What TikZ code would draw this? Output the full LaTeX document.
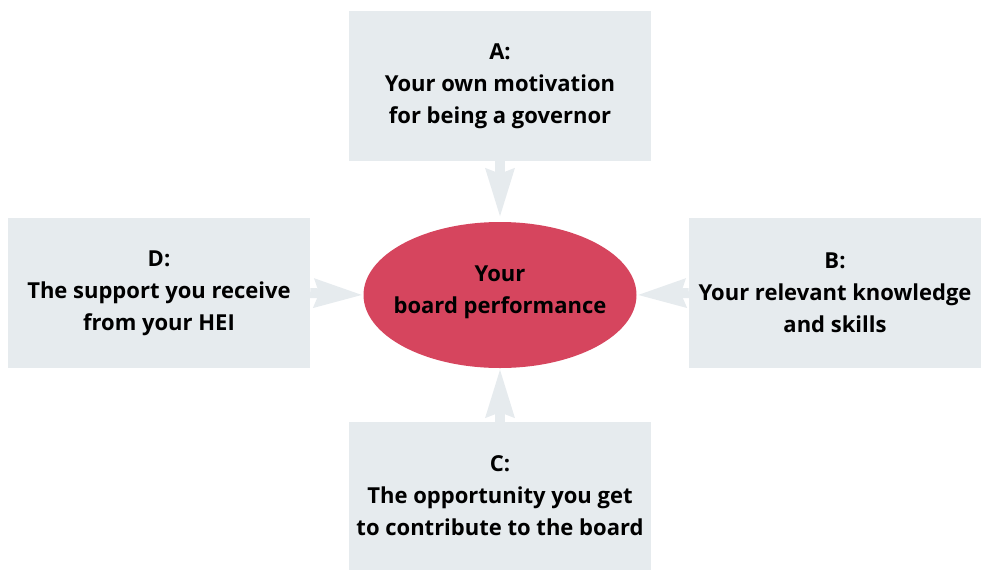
\documentclass[tikz,border=0pt]{standalone}
\usepackage{fontspec}
\setmainfont{Open Sans}
\usetikzlibrary{arrows.meta,shapes.geometric}
\definecolor{boxgray}{HTML}{E6EBEE}
\definecolor{ellred}{HTML}{D6455E}
\tikzset{
  factor/.style={rectangle, fill=boxgray, draw=none, align=center, inner sep=0pt,
    font=\fontsize{22}{32}\selectfont\bfseries},
  centre/.style={ellipse, fill=ellred, draw=none, minimum width=273pt, minimum height=146pt,
    align=center, inner sep=0pt},
  label/.style={font=\fontsize{22}{32}\selectfont\bfseries, align=center, inner sep=0pt},
  link/.style={draw=boxgray, line width=10pt,
    -{Stealth[length=48pt,width=27pt,inset=4pt]}}
}
\begin{document}
\begin{tikzpicture}[x=1pt,y=-1pt]
\useasboundingbox (0,0) rectangle (981,570);
\node[factor, minimum width=302pt, minimum height=150pt] (A) at (500,86) {A:\\Your own motivation\\for being a governor};
\node[factor, minimum width=302pt, minimum height=150pt] (D) at (159,293) {D:\\The support you receive\\from your HEI};
\node[factor, minimum width=292pt, minimum height=150pt] (B) at (835,293) {B:\\Your relevant knowledge\\and skills};
\node[factor, minimum width=302pt, minimum height=148pt] (C) at (500,496) {C:\\The opportunity you get\\to contribute to the board};
\node[centre] (E) at (500,295) {};
\node[label] (Et) at (500,292) {Your\\board performance};
\draw[link, shorten >=4pt] (A.south) -- (E.north);
\draw[link] (D.east) -- (E.west);
\draw[link] (B.west) -- (E.east);
\draw[link] (C.north) -- (E.south);
\end{tikzpicture}
\end{document}
